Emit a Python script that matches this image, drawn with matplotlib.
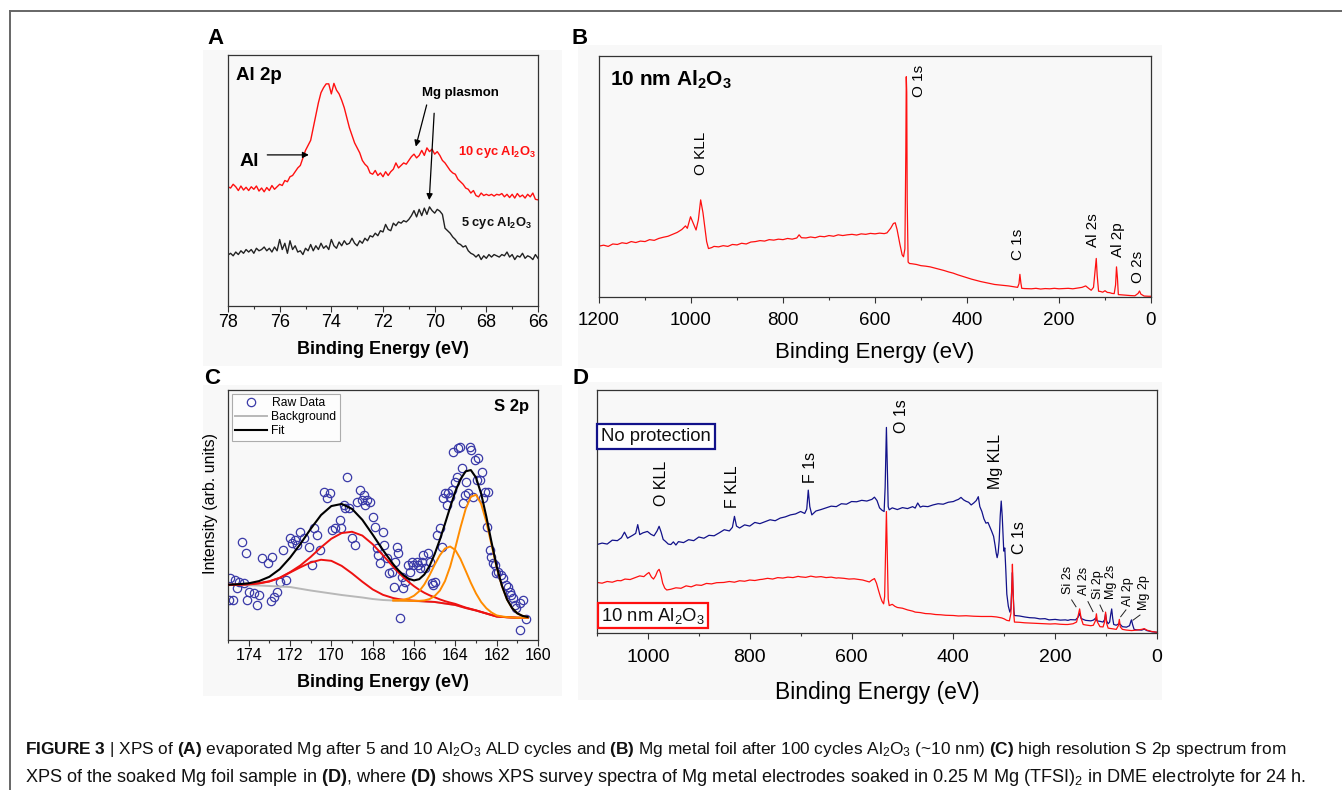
import matplotlib
matplotlib.use('Agg')
import matplotlib.pyplot as plt
import numpy as np
from matplotlib.patches import Rectangle
from matplotlib.lines import Line2D

plt.rcParams['font.family'] = ['Liberation Sans', 'DejaVu Sans']
plt.rcParams['mathtext.fontset'] = 'custom'
plt.rcParams['mathtext.rm'] = 'Liberation Sans'
plt.rcParams['mathtext.it'] = 'Liberation Sans:italic'
plt.rcParams['mathtext.bf'] = 'Liberation Sans:bold'

# ---------------- data ----------------
# Panel A: Al 2p region, 0.1 eV channels from 78 to 66 eV
a_start, a_stop = 78.0, 66.0
a_10cyc = [47.5, 47, 48.5, 47.5, 46, 47.8, 46.2, 47.3, 46, 47.5, 46.5, 47.8, 45.8, 47, 45.5, 47.2, 46, 48, 46.5, 47.5, 48.5,
           48, 50, 49.5, 51.5, 52, 53.5, 55, 56, 59, 62,
           64, 66, 71, 76, 81, 85, 87, 88.5, 88.5, 84.5,
           88.7, 86, 84.5, 82, 79, 75, 71, 68, 65, 63,
           61, 58, 56.5, 55.5, 53, 52.5, 54, 52, 53, 51.5,
           53.5, 52, 53.5, 54.5, 57, 55, 56, 57, 56.5, 58,
           59.5, 60.5, 59, 60, 62, 60, 63, 61.5, 62.5, 60.5,
           61.5, 60, 58, 57, 55.5, 54, 53, 52.5, 50.5, 49.5,
           48.5, 47, 46.5, 45, 46, 44, 43.5, 45, 44, 44.5,
           44, 44.5, 43.8, 44.5, 44.2, 44.8, 43.5, 44.5, 43.2, 44.5,
           43, 44.8, 43.5, 44.2, 43, 44.5, 43.5, 45, 42.5, 42.3]
a_5cyc = [20.3, 21, 20, 21.5, 20.5, 22, 21, 22.5, 21.5, 22.5, 21, 23, 22, 22.5, 23.5, 22, 23, 21.5, 23.5, 22, 26.5,
          22.5, 25, 21, 26, 22.5, 24, 21.5, 22, 20.5, 23,
          22, 24.5, 22, 24, 22.5, 25, 23, 24, 22.5, 26.5,
          24, 23, 25.5, 24, 26, 24.5, 25, 27, 25, 24,
          26, 25, 27, 26, 28, 27.5, 29, 28, 30, 29.5,
          32.5, 30.5, 30, 33, 32, 33.5, 33, 34, 33.5, 34.5,
          36, 38, 35.5, 38.5, 36, 39, 36.5, 39.5, 38, 37,
          38.5, 37.8, 36.5, 31, 30, 29, 27.5, 26.5, 25, 24.5,
          23.5, 24, 22, 21, 20.5, 19.5, 20.5, 18.5, 20, 19,
          20.5, 19.5, 20.5, 20, 19.5, 20.5, 20, 21.5, 19.5, 20.5,
          18.5, 20, 19.5, 21, 19, 20, 19.5, 18.5, 20.5, 19]

# Panel B: survey, 10 nm Al2O3
b_energy = [1200, 1190, 1180, 1170, 1160, 1150, 1140, 1130, 1120, 1110, 1100, 1090, 1080, 1070, 1060, 1050, 1040, 1030, 1020,
            1012, 1008, 1001, 995, 989, 984, 979, 974, 970, 966, 962,
            955, 950, 940, 930, 920, 910, 900,
            890, 880, 870, 860, 850, 840, 830, 820, 810, 800,
            790, 780, 770, 765, 760, 750, 740, 730, 720, 710, 700,
            690, 680, 670, 660, 650, 640, 630, 620, 610, 600,
            590, 580, 574, 566, 560, 556, 552, 546, 541, 538, 535, 533, 532, 531, 530, 528, 525, 520,
            510, 500, 490, 480, 470, 460, 450, 440, 430, 420, 410, 400,
            390, 380, 370, 360, 350, 340, 330, 320, 310, 300, 290,
            287, 285, 283, 281, 275,
            260, 250, 240, 230, 220, 210, 200, 190, 180, 170, 160, 150,
            142, 135, 130, 125, 121, 119, 117, 114, 110, 105, 100, 95, 90, 85, 80,
            77, 75, 73, 71, 65, 55, 45, 35, 28, 25, 22, 15, 5, 0]
b_counts = [21.1, 21.5, 21.0, 22.0, 21.8, 22.5, 22.2, 23.0, 22.6, 23.2, 23.0, 23.8, 23.5, 24.3, 24.8, 25.2, 26.0, 26.8, 28.0,
            29.5, 28.5, 33.3, 30.5, 27.8, 32.0, 40.3, 35.0, 29.0, 23.0, 20.1,
            20.5, 21.0, 20.8, 21.3, 21.0, 21.8, 21.6,
            22.3, 22.0, 22.8, 23.0, 23.4, 23.2, 23.8, 23.6, 24.0, 23.8,
            24.3, 24.0, 24.5, 25.8, 24.6, 24.5, 24.9, 24.6, 25.2, 25.0, 25.5,
            25.2, 25.8, 25.5, 25.8, 26.0, 25.7, 26.2, 26.0, 26.4, 26.2,
            26.5, 26.3, 26.6, 28.5, 30.5, 30.8, 28.0, 22.0, 17.5, 16.7, 20.0, 60.0, 91.4, 85.0, 40.0, 14.5, 13.9, 13.8,
            13.5, 13.0, 12.8, 12.5, 12.0, 11.5, 11.0, 10.4, 9.9, 9.2, 8.6, 8.0,
            7.4, 6.9, 6.4, 6.0, 5.6, 5.2, 5.0, 4.8, 4.6, 4.3, 4.0,
            5.5, 9.4, 6.0, 3.6, 3.5,
            3.4, 3.6, 3.3, 3.5, 3.4, 3.6, 3.4, 3.5, 3.6, 3.4, 3.7, 4.0,
            4.6, 3.5, 2.8, 4.0, 12.0, 16.0, 9.0, 2.4, 2.3, 2.0, 2.6, 1.9, 1.8, 1.5, 1.4,
            5.0, 12.5, 8.0, 1.0, 0.9, 0.7, 0.6, 0.5, 1.5, 2.5, 1.2, 0.4, 0.3, 0.3]
b_labels = [("O KLL", 979, 59.7), ("O 1s", 504, 89.6), ("C 1s", 289, 22.0),
            ("Al 2s", 126, 27.8), ("Al 2p", 71, 23.6), ("O 2s", 28, 12.5)]

# Panel C: S 2p high resolution
c_raw = [(174.95, 16.0), (174.76, 16.0), (174.90, 24.7), (174.66, 24.0), (174.47, 23.3), (174.23, 22.7), (174.55, 20.9),
         (173.99, 19.3), (174.07, 16.0), (173.75, 18.7), (173.50, 18.0), (173.59, 14.0), (174.31, 39.3), (174.15, 34.7),
         (173.34, 32.7), (173.05, 30.7), (172.86, 33.3), (172.94, 15.6), (172.78, 17.3), (172.62, 19.3), (172.46, 23.3),
         (172.35, 36.0), (172.19, 24.0), (171.98, 40.7), (171.90, 38.7), (171.74, 40.0), (171.66, 38.0), (171.50, 43.3),
         (171.33, 40.7), (171.09, 37.3), (170.93, 30.0), (170.85, 44.7), (170.69, 42.0), (170.53, 36.0), (170.37, 59.3),
         (170.21, 56.7), (170.05, 58.7), (169.97, 44.0), (169.81, 44.7), (169.57, 48.0), (169.53, 44.7), (169.41, 54.0),
         (169.24, 65.3), (169.32, 52.7), (169.16, 52.7), (169.00, 40.7), (168.84, 38.0), (168.76, 55.3), (168.60, 60.0),
         (168.52, 56.0), (168.44, 58.0), (168.36, 54.0), (168.28, 56.0), (168.12, 55.3), (167.96, 49.3), (167.88, 45.3),
         (167.80, 36.7), (167.72, 34.0), (167.64, 30.7), (167.48, 43.3), (167.43, 38.0), (167.32, 32.7), (167.23, 26.7),
         (167.07, 27.3), (166.99, 21.3), (166.91, 31.3), (166.83, 37.3), (166.75, 34.7), (166.67, 8.7), (166.59, 25.3),
         (166.51, 20.7), (166.43, 23.3), (166.27, 30.0), (166.19, 27.3), (166.11, 31.3), (166.03, 30.0), (165.87, 31.3),
         (165.79, 30.0), (165.71, 28.7), (165.63, 31.3), (165.55, 34.0), (165.47, 28.7), (165.31, 34.7), (165.23, 31.3),
         (165.14, 22.7), (165.06, 22.0), (164.98, 23.3), (164.90, 42.0), (164.74, 44.7), (164.66, 37.3), (164.58, 56.7),
         (164.50, 58.7), (164.42, 54.0), (164.34, 58.7), (164.26, 57.3), (164.18, 60.0), (164.10, 75.3), (164.02, 63.3),
         (163.94, 65.3), (163.86, 76.7), (163.78, 77.3), (163.70, 68.7), (163.62, 54.7), (163.54, 58.0), (163.46, 63.3),
         (163.38, 58.7), (163.30, 77.3), (163.22, 76.0), (163.14, 57.3), (163.05, 72.0), (162.97, 64.0), (162.89, 72.7),
         (162.81, 64.0), (162.73, 67.3), (162.65, 56.7), (162.57, 59.3), (162.49, 45.3), (162.41, 59.3), (162.33, 36.0),
         (162.25, 33.3), (162.17, 30.7), (162.09, 30.0), (162.01, 26.7), (161.93, 27.3), (161.77, 26.0), (161.69, 24.7),
         (161.53, 22.0), (161.45, 21.3), (161.37, 19.3), (161.29, 18.0), (161.21, 16.7), (161.13, 14.0), (161.05, 12.7),
         (160.88, 14.7), (160.72, 16.0), (160.56, 8.4), (160.88, 4.0)]
c_energy = [175.0, 174.5, 174.0, 173.5, 173.0, 172.5, 172.0, 171.5, 171.0, 170.5, 170.0, 169.5, 169.0, 168.5, 168.0, 167.5, 167.0,
            166.75, 166.5, 166.25, 166.0, 165.75, 165.5, 165.25, 165.0, 164.75, 164.5, 164.25, 164.0, 163.75, 163.5, 163.25,
            163.0, 162.75, 162.5, 162.25, 162.0, 161.75, 161.5, 161.25, 161.0, 160.75, 160.5]
c_background = [22.0, 22.0, 21.9, 21.8, 21.6, 21.4, 21.2, 20.5, 19.8, 19.2, 18.6, 18.0, 17.5, 17.0, 16.4, 16.0, 15.8,
                15.75, 15.7, 15.65, 15.6, 15.5, 15.4, 15.3, 15.2, 14.9, 14.6, 14.3, 14.0, 13.4, 12.8, 12.3, 11.8, 11.2,
                10.6, 10.0, 9.4, 9.25, 9.1, 9.0, 8.9, 8.9, 8.9]
c_red1 = [22.04, 22.12, 22.23, 22.62, 23.39, 24.82, 26.97, 29.08, 31.01, 32.1, 31.67, 29.65, 26.65, 23.31, 20.24, 18.06, 16.77,
          16.38, 16.1, 15.9, 15.75, 15.58, 15.45, 15.33, 15.22, 14.9, 14.6, 14.3, 14.0, 13.4, 12.8, 12.3, 11.8, 11.2,
          10.6, 10.0, 9.4, 9.25, 9.1, 9.0, 8.9, 8.9, 8.9]
c_red2 = [22.07, 22.18, 22.34, 22.74, 23.49, 24.89, 27.13, 29.8, 33.23, 37.07, 40.51, 42.77, 43.3, 41.77, 38.31, 33.87, 29.23,
          27.03, 25.0, 23.16, 21.53, 20.1, 18.89, 17.89, 17.09, 16.25, 15.54, 14.95, 14.44, 13.69, 12.98, 12.42, 11.87,
          11.24, 10.62, 10.0, 9.4, 9.25, 9.1, 9.0, 8.9, 8.9, 8.9]
c_orange1 = [15.86, 15.93, 16.14, 16.66, 17.71, 19.48, 22.22, 25.88, 30.09, 33.9, 36.6, 37.4, 36.0, 32.4, 27.69, 22.88,
             18.62, 15.18, 12.71, 11.01, 9.84, 9.43, 9.16, 9.02, 8.9, 8.9, 8.9]
c_orange2 = [15.8, 15.76, 15.72, 15.68, 15.65, 15.66, 15.83, 16.36, 17.58, 19.75, 23.57, 29.37, 36.93, 45.04, 52.4, 57.27,
             58.1, 54.45, 47.24, 38.14, 29.01, 21.64, 16.2, 12.69, 10.64, 9.65, 9.19]
c_fit = [22.11, 22.30, 22.67, 23.56, 25.28, 28.31, 32.90, 38.38, 44.44, 49.97, 53.58, 54.42, 52.45, 48.08, 42.15, 35.93, 30.26,
         27.85, 25.86, 24.45, 23.84, 24.32, 26.19, 29.56, 34.38, 40.10, 46.51, 53.12, 59.37, 64.33, 67.47, 67.97, 64.99,
         58.47, 49.37, 39.15, 29.45, 21.82, 16.26, 12.71, 10.64, 9.65, 9.19]

# Panel D: surveys of soaked electrodes
d_noprot = [(1100, 36.4), (1090, 37.0), (1080, 36.6), (1070, 38.2), (1060, 38.0), (1052, 39.2), (1046, 41.5), (1040, 39.0),
            (1030, 40.2), (1024, 41.0), (1020, 44.6), (1016, 40.5), (1010, 41.2), (1001, 41.8), (994, 40.6), (988, 40.0),
            (982, 42.0), (978, 43.9), (974, 41.5), (970, 38.5), (966, 37.8), (960, 36.6), (955, 36.4), (950, 37.5),
            (945, 36.2), (940, 37.6), (930, 37.2), (920, 38.4), (910, 38.0), (900, 39.5), (890, 39.0), (880, 40.2),
            (870, 40.0), (860, 41.2), (850, 42.5), (840, 42.0), (834, 43.5), (830, 48.0), (826, 44.0), (820, 43.2),
            (810, 44.5), (800, 44.0), (790, 45.5), (780, 45.0), (770, 45.8), (760, 46.6), (750, 46.2), (740, 47.3),
            (730, 47.8), (720, 48.6), (710, 49.0), (700, 50.0), (692, 49.2), (688, 51.0), (685, 58.8), (682, 52.0),
            (678, 48.6), (670, 50.2), (660, 50.8), (650, 51.5), (640, 52.2), (630, 52.0), (620, 53.2), (610, 53.0),
            (600, 54.1), (590, 54.0), (580, 54.6), (570, 54.3), (560, 55.0), (555, 55.9), (550, 54.5), (545, 51.5),
            (540, 50.5), (536, 50.0), (534, 60.0), (532, 80.0), (531.5, 84.6), (530, 70.0), (528, 52.0), (526, 50.7),
            (520, 51.5), (510, 50.8), (500, 51.6), (490, 51.2), (480, 52.0), (475, 51.4), (470, 53.5), (465, 51.8),
            (460, 52.2), (450, 52.0), (440, 52.7), (430, 53.2), (420, 53.0), (410, 53.8), (400, 54.1), (395, 54.6),
            (390, 55.0), (385, 55.8), (380, 54.8), (375, 54.2), (370, 53.8), (365, 52.7), (360, 53.5), (355, 54.5),
            (351, 56.1), (348, 52.0), (344, 50.0), (340, 47.0), (336, 45.2), (332, 45.5), (329, 44.0), (325, 42.0),
            (321, 39.8), (318, 36.0), (316, 33.0), (314, 31.0), (312, 33.0), (310, 38.0), (308, 48.0), (306, 54.3),
            (304, 48.0), (302, 38.0), (301, 33.7), (299, 35.0), (297, 26.0), (295, 16.0), (292, 11.0), (289, 8.6),
            (287, 10.0), (285, 20.0), (284, 24.9), (283, 18.0), (281, 9.0), (280, 7.2), (270, 7.0), (260, 6.6),
            (250, 6.3), (240, 6.2), (230, 5.8), (220, 5.9), (212, 5.4), (200, 5.6), (190, 5.3), (180, 5.4), (175, 5.2),
            (170, 5.5), (160, 5.4), (155, 6.5), (152, 8.0), (149, 6.0), (145, 5.6), (140, 5.2), (130, 5.0), (125, 5.3),
            (120, 6.2), (118, 5.0), (112, 4.8), (106, 4.5), (103, 5.5), (101, 7.9), (99, 5.0), (96, 3.8), (93, 4.5),
            (91, 7.5), (89, 9.9), (87, 6.0), (85, 3.5), (80, 3.2), (75, 3.8), (72, 3.5), (68, 2.6), (60, 2.4), (54, 3.0),
            (51, 5.0), (50, 5.4), (48, 3.5), (45, 1.5), (40, 1.3), (30, 1.2), (25, 1.6), (20, 1.0), (10, 0.5), (0, 0.3)]
d_al2o3 = [(1100, 20.8), (1090, 20.5), (1080, 21.2), (1070, 20.9), (1060, 21.6), (1053, 21.5), (1045, 22.2), (1035, 22.0),
           (1025, 22.8), (1016, 23.5), (1008, 23.2), (1002, 24.3), (998, 24.9), (993, 23.0), (989, 22.2), (985, 23.5),
           (981, 25.5), (978, 26.2), (975, 24.5), (971, 20.5), (967, 18.5), (963, 17.7), (955, 18.0), (945, 18.6),
           (935, 18.4), (925, 19.4), (915, 19.0), (905, 19.8), (895, 19.6), (885, 20.4), (875, 20.2), (865, 20.7),
           (851, 20.8), (840, 21.2), (830, 20.9), (820, 21.5), (810, 21.3), (800, 21.8), (790, 21.6), (780, 22.0),
           (775, 22.1), (765, 22.5), (755, 22.2), (745, 22.8), (735, 22.6), (725, 23.0), (715, 22.8), (705, 23.3),
           (700, 23.1), (690, 22.9), (680, 23.4), (670, 23.0), (660, 23.2), (650, 22.8), (640, 23.0), (630, 22.6),
           (626, 22.7), (615, 22.5), (605, 22.2), (595, 22.3), (585, 22.0), (578, 21.8), (573, 21.5), (565, 21.0),
           (560, 21.8), (555, 22.4), (551, 20.5), (547, 17.5), (543, 14.7), (540, 13.0), (537, 12.0), (535, 15.0),
           (533, 35.0), (531.5, 50.0), (530, 35.0), (528, 14.0), (526, 11.3), (520, 11.8), (515, 11.0), (510, 10.5),
           (500, 10.2), (490, 9.5), (480, 9.0), (475, 8.6), (465, 8.4), (455, 8.0), (445, 7.9), (435, 7.6), (425, 7.5),
           (415, 7.3), (400, 7.2), (390, 7.0), (375, 7.1), (360, 6.9), (345, 6.8), (325, 6.8), (315, 6.6), (305, 6.2),
           (300, 5.8), (295, 5.2), (290, 5.0), (287, 8.0), (285, 20.0), (284, 28.3), (283, 20.0), (281, 7.0), (280, 4.5),
           (270, 4.4), (260, 4.2), (250, 4.1), (240, 4.0), (230, 3.9), (220, 3.8), (210, 3.7), (200, 3.8), (190, 3.6),
           (180, 3.5), (175, 3.5), (165, 3.8), (158, 4.5), (155, 7.0), (152, 9.9), (149, 6.0), (145, 3.5), (140, 3.3),
           (130, 3.0), (125, 3.2), (121, 5.0), (119, 7.9), (117, 4.5), (112, 2.6), (106, 2.5), (103, 4.5), (101, 8.6),
           (99, 4.0), (96, 2.0), (90, 1.8), (85, 1.6), (80, 1.5), (76, 3.0), (74, 5.6), (72, 2.5), (68, 1.5), (60, 1.2),
           (50, 1.0), (40, 1.2), (30, 1.5), (25, 1.8), (20, 1.2), (10, 0.6), (0, 0.3)]
d_labels_big = [("O KLL", 973, 61.5), ("F KLL", 834, 60.2), ("F 1s", 680, 68.3), ("O 1s", 502, 89.4),
                ("Mg KLL", 318, 70.4), ("C 1s", 271, 39.1)]
d_labels_small = [("Si 2s", 174, 22.0), ("Al 2s", 144, 21.5), ("Si 2p", 116, 19.8), ("Mg 2s", 90, 21.0),
                  ("Al 2p", 57, 17.2), ("Mg 2p", 25, 16.6)]
d_leaders = [((167.6, 13.6), (159.1, 10.8)), ((135.6, 12.9), (125.7, 8.8)), ((112, 11.5), (106, 8.8)),
             ((71.3, 6.7), (61, 9.5)), ((47, 5.3), (33.4, 7.4))]

# ---------------- figure ----------------
W, H = 1342, 790
fig = plt.figure(figsize=(W / 100, H / 100), dpi=100)
fig.patch.set_facecolor('white')

def fx(px):
    return px / W

def fy(py):
    return 1 - py / H

# light grey panel backgrounds
for (x0, y0, x1, y1) in [(203, 50, 562, 366), (578, 45, 1162, 368), (203, 385, 562, 696), (578, 382, 1162, 700)]:
    fig.patches.append(Rectangle((fx(x0), fy(y1)), (x1 - x0) / W, (y1 - y0) / H, transform=fig.transFigure,
                                 facecolor='#f8f8f8', edgecolor='none', zorder=-10))

# outer frame
fig.lines.append(Line2D([fx(9.5), fx(9.5)], [0, fy(10.5)], transform=fig.transFigure, color='#666666', lw=1.4))
fig.lines.append(Line2D([fx(9.5), 1], [fy(10.5), fy(10.5)], transform=fig.transFigure, color='#666666', lw=1.4))

def add_axes_px(l, t, r, b):
    ax = fig.add_axes([fx(l), fy(b), (r - l) / W, (b - t) / H])
    ax.set_zorder(1)
    return ax

def style(ax, xlim, major, minor, labelsize, pad):
    ax.set_xlim(xlim)
    ax.set_ylim(0, 100)
    ax.set_xticks(major)
    ax.set_xticks(minor, minor=True)
    ax.set_yticks([])
    ax.tick_params(axis='x', which='major', direction='out', length=4, width=0.8, labelsize=labelsize, pad=pad,
                   color='#333333')
    ax.tick_params(axis='x', which='minor', direction='out', length=2.5, width=0.8, color='#333333')
    for s in ax.spines.values():
        s.set_linewidth(0.9)
        s.set_color('#333333')
    ax.set_facecolor('#f8f8f8')

RED = '#ff1010'
NAVY = '#12128a'

# ---- Panel A ----
axA = add_axes_px(228, 55, 538, 306)
style(axA, (78, 66), [78, 76, 74, 72, 70, 68, 66], [77, 75, 73, 71, 69, 67], 13, 2)
eA = np.linspace(a_start, a_stop, len(a_10cyc))
axA.plot(eA, a_10cyc, color=RED, lw=1.0)
axA.plot(eA, a_5cyc, color='#222222', lw=1.0)
axA.set_xlabel('Binding Energy (eV)', fontsize=13, fontweight='bold', labelpad=7)
axA.text(77.7, 92, 'Al 2p', fontsize=13.5, fontweight='bold', ha='left', va='center')
axA.text(69.02, 85, 'Mg plasmon', fontsize=9.5, fontweight='bold', ha='center', va='center')
axA.text(67.6, 61.5, r'10 cyc Al$_{\mathbf{2}}$O$_{\mathbf{3}}$', fontsize=9.3, fontweight='bold', color=RED,
         ha='center', va='center')
axA.text(67.6, 33, r'5 cyc Al$_{\mathbf{2}}$O$_{\mathbf{3}}$', fontsize=9.3, fontweight='bold', color='#111111',
         ha='center', va='center')
axA.text(77.19, 57.5, 'Al', fontsize=14, fontweight='bold', ha='center', va='center')
arrow = dict(arrowstyle='-|>', lw=0.9, color='black', mutation_scale=9, shrinkA=0, shrinkB=0)
axA.annotate('', xy=(74.87, 60.2), xytext=(76.48, 60.2), arrowprops=arrow)
axA.annotate('', xy=(70.73, 63.5), xytext=(70.31, 80.1), arrowprops=arrow)
axA.annotate('', xy=(70.21, 42.2), xytext=(70.02, 76.8), arrowprops=arrow)

# ---- Panel B ----
axB = add_axes_px(599, 56, 1151, 297)
style(axB, (1200, 0), [1200, 1000, 800, 600, 400, 200, 0], [1100, 900, 700, 500, 300, 100], 13.5, 6.5)
axB.plot(b_energy, b_counts, color=RED, lw=0.9)
axB.set_xlabel('Binding Energy (eV)', fontsize=16, labelpad=10)
axB.text(1177, 90.3, r'10 nm Al$_{\mathbf{2}}$O$_{\mathbf{3}}$', fontsize=15, fontweight='bold', ha='left', va='center')
for name, e, v in b_labels:
    axB.text(e, v, name, rotation=90, fontsize=11, ha='center', va='center')

# ---- Panel C ----
axC = add_axes_px(228, 390, 538, 640)
style(axC, (175, 160), [174, 172, 170, 168, 166, 164, 162, 160], [175, 173, 171, 169, 167, 165, 163, 161], 11.5, 1.5)
raw_e, raw_v = zip(*c_raw)
axC.plot(raw_e, raw_v, 'o', mfc='none', mec='#3a3aa8', mew=0.9, ms=6, zorder=2, label='Raw Data')
axC.plot(c_energy, c_background, color='#b8b8b8', lw=1.4, zorder=3, label='Background')
axC.plot(c_energy, c_red1, color='#ee1111', lw=1.4, zorder=3)
axC.plot(c_energy, c_red2, color='#ee1111', lw=1.4, zorder=3)
axC.plot(c_energy[16:], c_orange1, color='#ff8c00', lw=1.4, zorder=3)
axC.plot(c_energy[16:], c_orange2, color='#ff8c00', lw=1.4, zorder=3)
axC.plot(c_energy, c_fit, color='black', lw=1.5, zorder=4, label='Fit')
leg = axC.legend(loc='upper left', fontsize=8.7, frameon=True, fancybox=False, edgecolor='#999999',
                 borderaxespad=0.3, handlelength=2.6, handletextpad=0.4, borderpad=0.3, labelspacing=0.15)
leg.get_frame().set_linewidth(0.8)
axC.text(161.3, 93.3, 'S 2p', fontsize=12, fontweight='bold', ha='center', va='center')
axC.set_xlabel('Binding Energy (eV)', fontsize=13, fontweight='bold', labelpad=8)
axC.set_ylabel('Intensity (arb. units)', fontsize=11.5)
axC.yaxis.set_label_coords(-0.032, 0.546)

# ---- Panel D ----
axD = add_axes_px(597, 390, 1157, 633)
style(axD, (1100, 0), [1000, 800, 600, 400, 200, 0], [1100, 900, 700, 500, 300, 100], 14, 7.5)
be, bv = zip(*d_noprot)
re_, rv = zip(*d_al2o3)
axD.plot(be, bv, color=NAVY, lw=0.9)
axD.plot(re_, rv, color=RED, lw=0.9)
axD.set_xlabel('Binding Energy (eV)', fontsize=16.5, labelpad=11)
for name, e, v in d_labels_big:
    axD.text(e, v, name, rotation=90, fontsize=11.5, ha='center', va='center')
for name, e, v in d_labels_small:
    axD.text(e, v, name, rotation=90, fontsize=9, ha='center', va='center')
for (p0, p1) in d_leaders:
    axD.plot([p0[0], p1[0]], [p0[1], p1[1]], color='#222222', lw=0.7)
axD.text(1092, 81.0, 'No protection', fontsize=13.3, ha='left', va='center', color='#111111',
         bbox=dict(boxstyle='square,pad=0.22', fc='white', ec=NAVY, lw=1.6))
axD.text(1092, 7.2, r'10 nm Al$_{\mathregular{2}}$O$_{\mathregular{3}}$', fontsize=13.3, ha='left', va='center',
         color='#111111', bbox=dict(boxstyle='square,pad=0.15', fc='white', ec=RED, lw=1.6))

# panel letters
for letter, x, y in [('A', 215, 38), ('B', 580, 38), ('C', 212, 378), ('D', 581, 378)]:
    fig.text(fx(x), fy(y), letter, fontsize=16, fontweight='bold', ha='center', va='center')

# caption
cap1 = (r"$\mathbf{FIGURE\ 3}$ | XPS of $\mathbf{(A)}$ evaporated Mg after 5 and 10 Al$_{\mathregular{2}}$O$_{\mathregular{3}}$ "
        r"ALD cycles and $\mathbf{(B)}$ Mg metal foil after 100 cycles Al$_{\mathregular{2}}$O$_{\mathregular{3}}$ (~10 nm) "
        r"$\mathbf{(C)}$ high resolution S 2p spectrum from")
cap2 = (r"XPS of the soaked Mg foil sample in $\mathbf{(D)}$, where $\mathbf{(D)}$ shows XPS survey spectra of Mg metal "
        r"electrodes soaked in 0.25 M Mg (TFSI)$_{\mathregular{2}}$ in DME electrolyte for 24 h.")
t1 = fig.text(fx(25), fy(754), cap1, fontsize=11, ha='left', va='baseline', color='#111111')
t2 = fig.text(fx(25), fy(782), cap2, fontsize=11, ha='left', va='baseline', color='#111111')
fig.canvas.draw()
rend = fig.canvas.get_renderer()
for t, target in [(t1, 1255), (t2, 1285)]:
    w = t.get_window_extent(rend).width
    t.set_fontsize(t.get_fontsize() * target / w)

fig.savefig('out.png', dpi=100, facecolor='white')
